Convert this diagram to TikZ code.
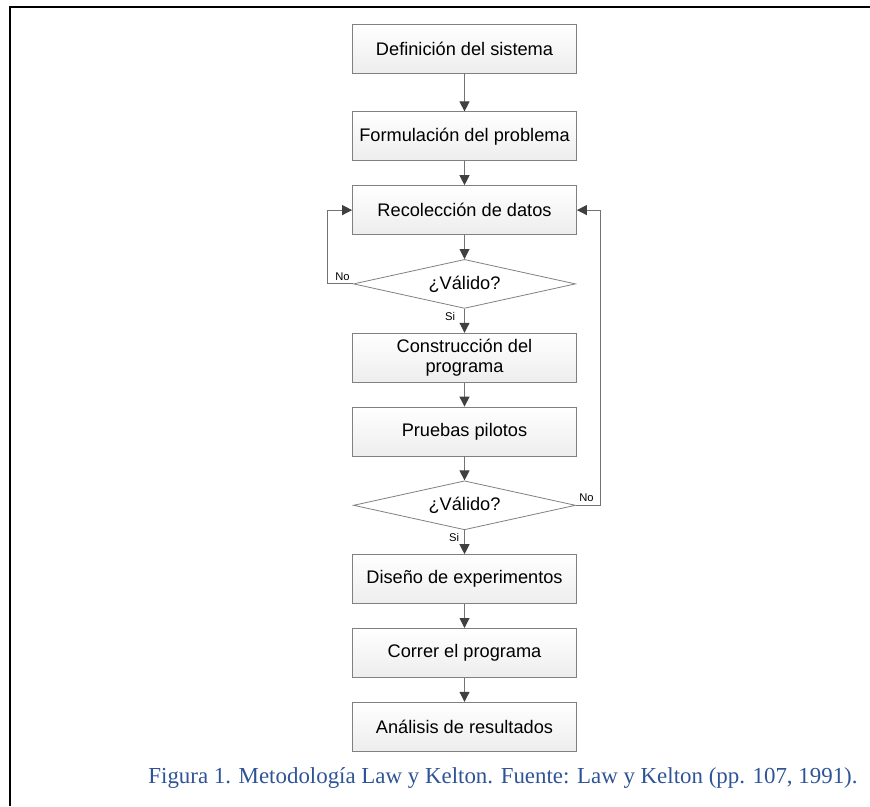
\documentclass[tikz,border=0pt]{standalone}
\usepackage{fontspec}
\setmainfont{Liberation Serif}
\setsansfont{Liberation Sans}
\usetikzlibrary{arrows.meta,positioning,shapes.geometric}
\definecolor{capblue}{RGB}{47,84,150}
\definecolor{edgegray}{RGB}{128,128,128}
\definecolor{arrgray}{RGB}{64,64,64}

\begin{document}
\begin{tikzpicture}[
  x=1pt,y=1pt,
  box/.style={draw=edgegray,top color=white,bottom color=gray!14,align=center,
    minimum width=112pt,minimum height=24.5pt,inner sep=2pt,
    font=\sffamily\fontsize{9.1}{10.4}\selectfont},
  dec/.style={diamond,draw=edgegray,fill=white,aspect=4.5,inner sep=0pt,
    minimum width=111pt,minimum height=24.5pt,
    font=\sffamily\fontsize{9.1}{10.4}\selectfont},
  arr/.style={-{Triangle[length=5pt,width=5pt,color=arrgray]},draw=gray!90!black,line width=0.5pt},
  lbl/.style={font=\sffamily\fontsize{5.6}{6}\selectfont,inner sep=0.5pt},
  node distance=12pt
]
\useasboundingbox (0,0) rectangle (435,-403);
% frame
\draw[line width=1pt] (5,-403) -- (5,-3.5) -- (435,-3.5);

\node[box] (def) at (232.25,-24.25) {Definición del sistema};
\node[box,below=19pt of def] (form) {Formulación del problema};
\node[box,below=of form] (recol) {Recolección de datos};
\node[dec,below=of recol] (val1) {¿Válido?};
\node[box,below=of val1] (cons) {Construcción del\\programa};
\node[box,below=of cons] (prueb) {Pruebas pilotos};
\node[dec,below=of prueb] (val2) {¿Válido?};
\node[box,below=of val2] (dis) {Diseño de experimentos};
\node[box,below=of dis] (corr) {Correr el programa};
\node[box,below=of corr] (anal) {Análisis de resultados};

\draw[arr] (def) -- (form);
\draw[arr] (form) -- (recol);
\draw[arr] (recol) -- (val1);
\draw[arr] (val1) -- (cons);
\draw[arr] (cons) -- (prueb);
\draw[arr] (prueb) -- (val2);
\draw[arr] (val2) -- (dis);
\draw[arr] (dis) -- (corr);
\draw[arr] (corr) -- (anal);

% loops back
\draw[arr] (val1.west) -- ++(-13,0) |- (recol.west);
\draw[arr] (val2.east) -- ++(12.5,0) |- (recol.east);
\node[lbl,anchor=south east,xshift=-1pt,yshift=1pt] (no1) at (val1.west) {No};
\node[lbl,anchor=north east,xshift=-4pt,yshift=-1pt] (si1) at (val1.south) {Si};
\node[lbl,anchor=south west,xshift=1pt,yshift=1pt] (no2) at (val2.east) {No};
\node[lbl,anchor=north east,xshift=-2pt,yshift=-1pt] (si2) at (val2.south) {Si};

\node[anchor=west,inner sep=0pt,text=capblue,font=\fontsize{11.45}{13}\selectfont] (cap) at (74,-389)
  {Figura 1. Metodología Law y Kelton. Fuente: Law y Kelton (pp. 107, 1991).};
\end{tikzpicture}
\end{document}
